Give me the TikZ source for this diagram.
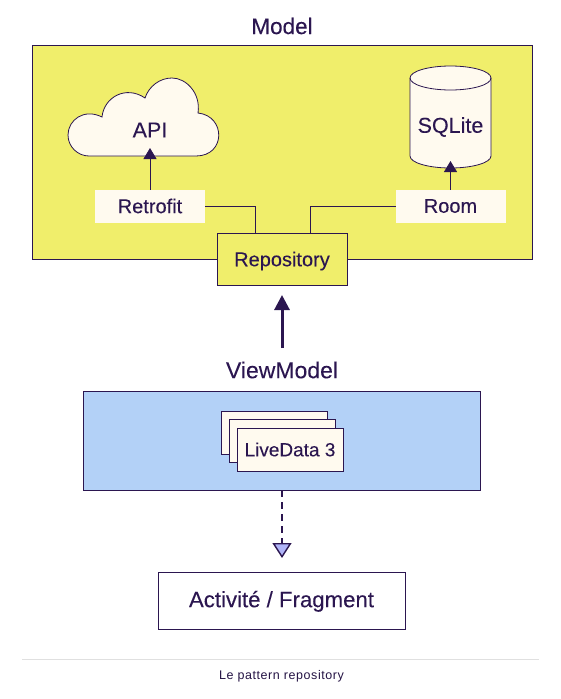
\documentclass[tikz,border=0pt]{standalone}
\usepackage{fontspec}
\setmainfont[FakeBold=0.12]{Liberation Sans}
\newfontfamily\capfont[LetterSpace=4.5]{Liberation Sans}
\usetikzlibrary{arrows.meta,calc}
\definecolor{ink}{HTML}{2B1650}
\definecolor{lemon}{HTML}{F0EE6B}
\definecolor{cream}{HTML}{FFFAEF}
\definecolor{sky}{HTML}{B3D1F7}
\definecolor{lilac}{HTML}{B0B4F8}
\tikzset{
    panel/.style={draw=ink,line width=0.8pt,inner sep=0pt,outer sep=0pt},
    chip/.style={fill=cream,inner sep=0pt,outer sep=0pt,minimum width=110pt,minimum height=33pt,text=ink,font=\fontsize{20}{24}\selectfont},
    card/.style={panel,fill=cream,minimum width=106pt,minimum height=43pt,text=ink,font=\fontsize{19}{23}\selectfont},
    heading/.style={text=ink,inner sep=0pt,font=\fontsize{22.5}{27}\selectfont},
    thinarrow/.style={draw=ink,line width=0.8pt,-{Triangle[length=11pt,width=13pt]}},
    wire/.style={draw=ink,line width=0.8pt}
}
\begin{document}
\begin{tikzpicture}[x=1pt,y=-1pt]
    \useasboundingbox (0,0) rectangle (561,699);

    \node[heading] (modeltitle) at (282,26) {Model};
    \node[panel,fill=lemon,minimum width=500pt,minimum height=214pt] (model) at (282,152) {};

    % cloud
    \draw[ink,line width=0.8pt,fill=cream] (89,156) -- (196,156)
        .. controls (226,156) and (226,116) .. (198,113)
        .. controls (201,93) and (186,78) .. (172,78)
        .. controls (160,78) and (149,86) .. (145,98)
        .. controls (126,85) and (104,97) .. (102,117)
        .. controls (84,108) and (68,120) .. (68,135)
        .. controls (68,147) and (78,156) .. (89,156) -- cycle;
    \node[text=ink,minimum height=36pt,inner sep=0pt,outer sep=0pt,font=\fontsize{21.5}{26}\selectfont] (api) at (150,130) {API};

    % cylindre
    \draw[ink,line width=0.8pt,fill=cream] (410,78) -- (410,156)
        arc[start angle=180,end angle=360,x radius=40.5,y radius=-12]
        -- (491,78) arc[start angle=0,end angle=180,x radius=40.5,y radius=-12] -- cycle;
    \draw[ink,line width=0.8pt] (410,78) arc[start angle=180,end angle=360,x radius=40.5,y radius=-12];
    \node[text=ink,minimum height=68pt,inner sep=0pt,outer sep=0pt,font=\fontsize{21.5}{26}\selectfont] (sqlite) at (450.5,127) {SQLite};

    \node[chip] (retrofit) at (150,206) {Retrofit};
    \node[chip] (room) at (450.5,206) {Room};
    \node[panel,fill=lemon,minimum width=130pt,minimum height=52pt,text=ink,text depth=0pt,font=\fontsize{20}{24}\selectfont] (repository) at (282,259) {Repository};
    \coordinate (repoleft) at (255,233);
    \coordinate (reporight) at (310,233);

    \draw[thinarrow] (retrofit) -- (api);
    \draw[thinarrow] (room.north) -- (sqlite.south);
    \draw[wire] (retrofit.east) -| (repoleft);
    \draw[wire] (room.west) -| (reporight);

    \node[heading,font=\fontsize{23}{27}\selectfont] (vmtitle) at (282,370) {ViewModel};
    \node[panel,fill=sky,minimum width=397pt,minimum height=99pt] (viewmodel) at (281.5,440.5) {};
    \coordinate (vmout) at (282,490);
    \coordinate (repoin) at (282,348);

    \foreach \i/\x/\y in {1/274/432.5,2/282/440.5}
        \node[card] (live\i) at (\x,\y) {};
    \node[card] (live3) at (290,449.5) {LiveData 3};

    \draw[draw=ink,line width=3pt,shorten >=10pt,-{Triangle[length=15pt,width=15pt]}] (repoin) -- (repository.south);

    \node[panel,fill=white,minimum width=247pt,minimum height=57pt,text=ink,text depth=3pt,font=\fontsize{22.2}{26}\selectfont] (activity) at (281.5,600.5) {Activité / Fragment};
    \draw[draw=ink,line width=2pt,dash pattern=on 7pt off 5pt,-{Triangle[length=15pt,width=19pt,fill=lilac,line width=1.4pt]}] (vmout) -- ($(activity.north)+(0.5,-14)$);

    \coordinate (ruleleft) at (22,659);
    \coordinate (ruleright) at (539,659);
    \draw[black!12,line width=0.8pt] (ruleleft) -- (ruleright);
    \node[text=ink!85!black,inner sep=0pt,font=\capfont\fontsize{12.5}{15}\selectfont] (caption) at (281.5,676.5) {Le pattern repository};
\end{tikzpicture}
\end{document}
